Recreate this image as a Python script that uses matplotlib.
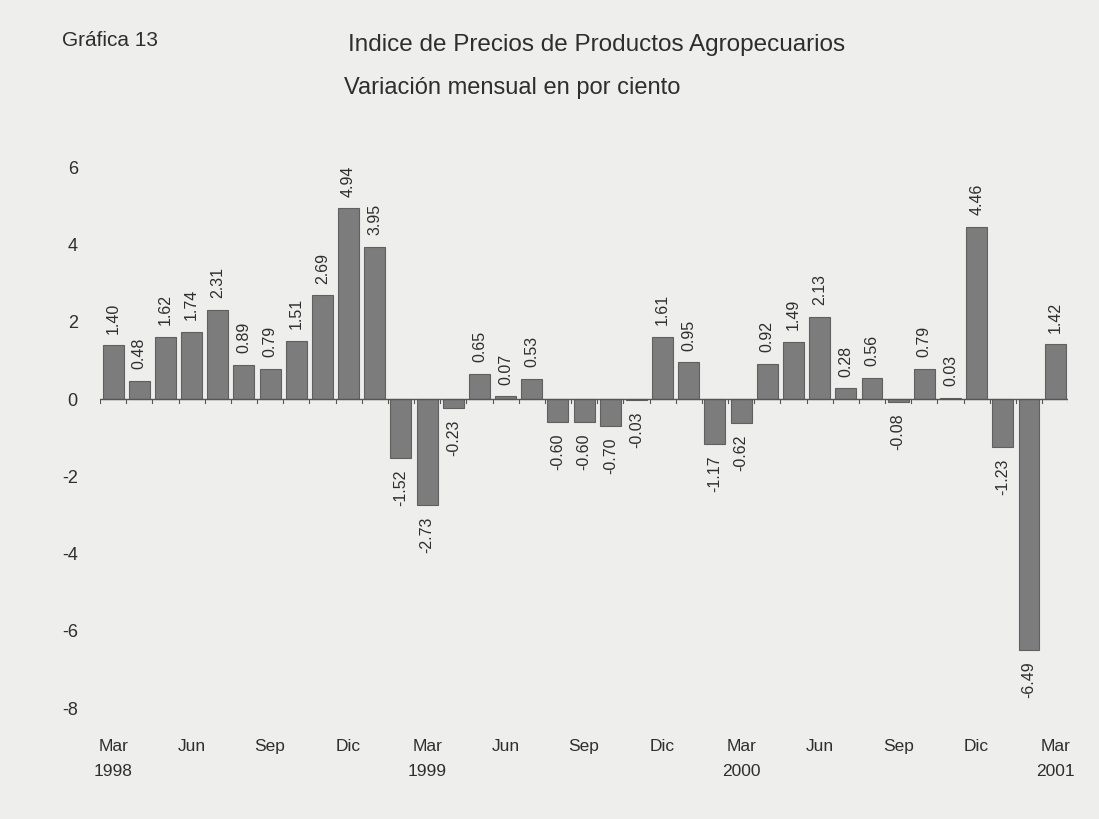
import matplotlib.pyplot as plt

plt.rcParams['font.family'] = ['Liberation Sans', 'DejaVu Sans']

# monthly change, Mar 1998 .. Mar 2001
months = ['Mar', 'Abr', 'May', 'Jun', 'Jul', 'Ago', 'Sep', 'Oct', 'Nov', 'Dic', 'Ene', 'Feb'] * 3 + ['Mar']
values = [1.40, 0.48, 1.62, 1.74, 2.31, 0.89, 0.79, 1.51, 2.69, 4.94, 3.95, -1.52,
          -2.73, -0.23, 0.65, 0.07, 0.53, -0.60, -0.60, -0.70, -0.03, 1.61, 0.95, -1.17,
          -0.62, 0.92, 1.49, 2.13, 0.28, 0.56, -0.08, 0.79, 0.03, 4.46, -1.23, -6.49,
          1.42]
years = {0: '1998', 12: '1999', 24: '2000', 36: '2001'}
yticks = [6, 4, 2, 0, -2, -4, -6, -8]

paper = '#eeeeec'
ink = '#2e2e2e'
fig = plt.figure(figsize=(10.99, 8.19), dpi=100, facecolor=paper)
ax = fig.add_axes([0.091, 0.1355, 0.881, 0.66])
ax.set_facecolor(paper)

x = list(range(len(values)))
ax.bar(x, values, width=0.8, color='#7c7c7c', edgecolor='#606060', linewidth=0.8, zorder=2)

for xi, v in zip(x, values):
    if v >= 0:
        ax.text(xi, v + 0.3, f'{v:.2f}', rotation=90, ha='center', va='bottom',
                fontsize=11.5, color=ink, clip_on=False)
    else:
        ax.text(xi, v - 0.3, f'{v:.2f}', rotation=90, ha='center', va='top',
                fontsize=11.5, color=ink, clip_on=False)

ax.axhline(0, color='#555555', linewidth=1.0, zorder=3)
# small ticks on the zero line between bars
for b in [i + 0.5 for i in range(-1, len(values))]:
    ax.plot([b, b], [0, -0.1], color='#555555', linewidth=0.8, zorder=3)

ax.set_xlim(-0.5, len(values) - 0.5)
ax.set_ylim(-8, 6)
ax.set_yticks(yticks)
ax.set_yticklabels([str(t) for t in yticks], fontsize=13, color=ink)
ax.tick_params(axis='y', length=0, pad=16)

tick_pos = list(range(0, len(values), 3))
tick_lab = [months[i] + ('\n' + years[i] if i in years else '\n') for i in tick_pos]
ax.set_xticks(tick_pos)
ax.set_xticklabels(tick_lab, fontsize=12.5, color=ink, linespacing=1.85)
ax.tick_params(axis='x', length=0, pad=22)

for s in ax.spines.values():
    s.set_visible(False)

fig.text(0.056, 0.950, 'Gráfica 13', fontsize=15, color=ink, ha='left', va='center')
fig.text(0.543, 0.945, 'Indice de Precios de Productos Agropecuarios', fontsize=17.5,
         color=ink, ha='center', va='center')
fig.text(0.466, 0.893, 'Variación mensual en por ciento', fontsize=17,
         color=ink, ha='center', va='center')

fig.savefig('out.png', dpi=100, facecolor=paper)
